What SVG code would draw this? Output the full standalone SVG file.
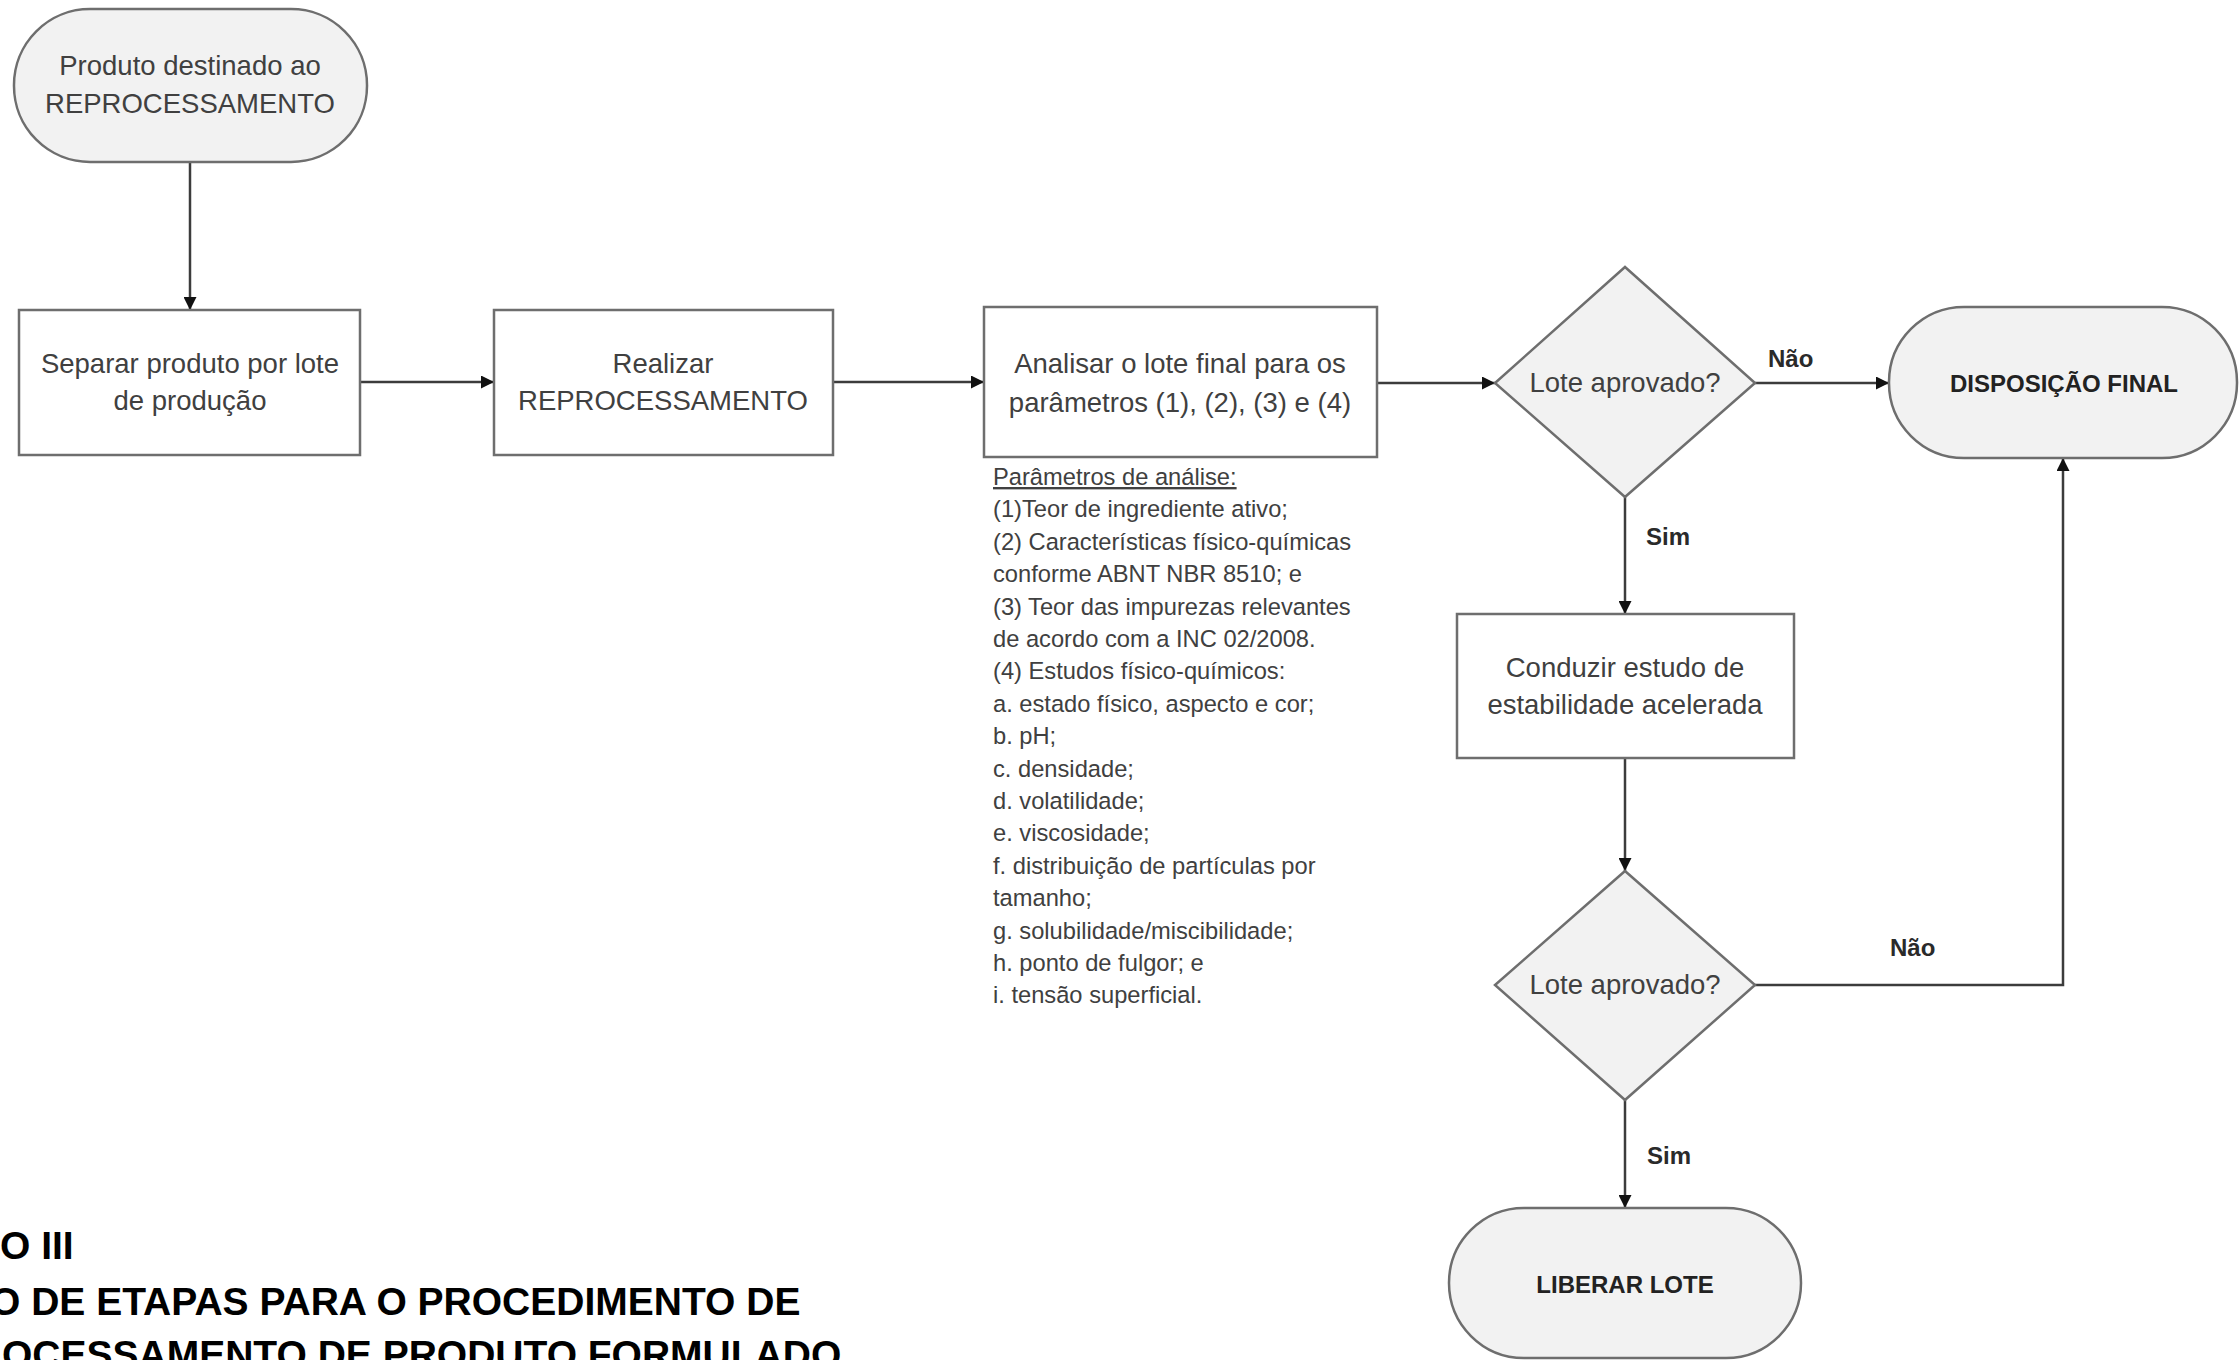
<svg xmlns="http://www.w3.org/2000/svg" width="2239" height="1360" viewBox="0 0 2239 1360">
<style>
.shape{fill:#ffffff;stroke:#6e6e6e;stroke-width:2.5}
.term{fill:#f2f2f2;stroke:#6e6e6e;stroke-width:2.5}
.t{font-family:"Liberation Sans",Arial,sans-serif;font-size:27.5px;fill:#404040;text-anchor:middle}
.b{font-family:"Liberation Sans",Arial,sans-serif;font-size:24px;font-weight:bold;fill:#222222;text-anchor:middle}
.lbl{font-family:"Liberation Sans",Arial,sans-serif;font-size:24px;font-weight:bold;fill:#2a2a2a}
.p{font-family:"Liberation Sans",Arial,sans-serif;font-size:23.7px;fill:#404040}
.title{font-family:"Liberation Sans",Arial,sans-serif;font-size:39px;font-weight:bold;fill:#000000}
.c{fill:none;stroke:#3c3c3c;stroke-width:2.5}
</style>
<defs>
<marker id="arr" markerUnits="userSpaceOnUse" markerWidth="13" markerHeight="13" viewBox="0 0 13 13" refX="13" refY="6.5" orient="auto">
<path d="M0,0 L13,6.5 L0,13 z" fill="#111111"/>
</marker>
</defs>
<rect width="2239" height="1360" fill="#ffffff"/>

<g id="connectors">
<line class="c" x1="190" y1="162" x2="190" y2="310" marker-end="url(#arr)"/>
<line class="c" x1="360" y1="382" x2="494" y2="382" marker-end="url(#arr)"/>
<line class="c" x1="833" y1="382" x2="984" y2="382" marker-end="url(#arr)"/>
<line class="c" x1="1377" y1="383" x2="1495" y2="383" marker-end="url(#arr)"/>
<line class="c" x1="1755" y1="383" x2="1889" y2="383" marker-end="url(#arr)"/>
<line class="c" x1="1625" y1="497" x2="1625" y2="614" marker-end="url(#arr)"/>
<line class="c" x1="1625" y1="758" x2="1625" y2="871" marker-end="url(#arr)"/>
<polyline class="c" points="1755,985 2063,985 2063,458" marker-end="url(#arr)"/>
<line class="c" x1="1625" y1="1100" x2="1625" y2="1208" marker-end="url(#arr)"/>
<text class="lbl" x="1768" y="367">Não</text>
<text class="lbl" x="1646" y="545">Sim</text>
<text class="lbl" x="1890" y="956">Não</text>
<text class="lbl" x="1647" y="1164">Sim</text>
</g>

<g id="start">
<rect class="term" x="14" y="9" width="353" height="153" rx="76" ry="76"/>
<text class="t" x="190" y="75">Produto destinado ao</text>
<text class="t" x="190" y="113">REPROCESSAMENTO</text>
</g>

<g id="separar">
<rect class="shape" x="19" y="310" width="341" height="145"/>
<text class="t" x="190" y="373">Separar produto por lote</text>
<text class="t" x="190" y="410">de produção</text>
</g>

<g id="realizar">
<rect class="shape" x="494" y="310" width="339" height="145"/>
<text class="t" x="663" y="373">Realizar</text>
<text class="t" x="663" y="410">REPROCESSAMENTO</text>
</g>

<g id="analisar">
<rect class="shape" x="984" y="307" width="393" height="150"/>
<text class="t" x="1180" y="373">Analisar o lote final para os</text>
<text class="t" x="1180" y="412">parâmetros (1), (2), (3) e (4)</text>
</g>

<g id="parametros">
<text class="p" x="993" y="485" text-decoration="underline">Parâmetros de análise:</text>
<text class="p" x="993" y="517.4">(1)Teor de ingrediente ativo;</text>
<text class="p" x="993" y="549.8">(2) Características físico-químicas</text>
<text class="p" x="993" y="582.2">conforme ABNT NBR 8510; e</text>
<text class="p" x="993" y="614.6">(3) Teor das impurezas relevantes</text>
<text class="p" x="993" y="647">de acordo com a INC 02/2008.</text>
<text class="p" x="993" y="679.4">(4) Estudos físico-químicos:</text>
<text class="p" x="993" y="711.8">a. estado físico, aspecto e cor;</text>
<text class="p" x="993" y="744.2">b. pH;</text>
<text class="p" x="993" y="776.6">c. densidade;</text>
<text class="p" x="993" y="809">d. volatilidade;</text>
<text class="p" x="993" y="841.4">e. viscosidade;</text>
<text class="p" x="993" y="873.8">f. distribuição de partículas por</text>
<text class="p" x="993" y="906.2">tamanho;</text>
<text class="p" x="993" y="938.6">g. solubilidade/miscibilidade;</text>
<text class="p" x="993" y="971">h. ponto de fulgor; e</text>
<text class="p" x="993" y="1003.4">i. tensão superficial.</text>
</g>

<g id="decisao1">
<polygon class="term" points="1625,267 1755,383 1625,497 1495,383"/>
<text class="t" x="1625" y="392">Lote aprovado?</text>
</g>

<g id="disposicao">
<rect class="term" x="1889" y="307" width="348" height="151" rx="75" ry="75"/>
<text class="b" x="2064" y="392">DISPOSIÇÃO FINAL</text>
</g>

<g id="conduzir">
<rect class="shape" x="1457" y="614" width="337" height="144"/>
<text class="t" x="1625" y="677">Conduzir estudo de</text>
<text class="t" x="1625" y="714">estabilidade acelerada</text>
</g>

<g id="decisao2">
<polygon class="term" points="1625,871 1755,985 1625,1100 1495,985"/>
<text class="t" x="1625" y="994">Lote aprovado?</text>
</g>

<g id="liberar">
<rect class="term" x="1449" y="1208" width="352" height="150" rx="75" ry="75"/>
<text class="b" x="1625" y="1293">LIBERAR LOTE</text>
</g>

<g id="titulo">
<text class="title" x="0" y="1259">O III</text>
<text class="title" x="-10" y="1315">O DE ETAPAS PARA O PROCEDIMENTO DE</text>
<text class="title" x="2" y="1368">OCESSAMENTO DE PRODUTO FORMULADO</text>
</g>
</svg>
